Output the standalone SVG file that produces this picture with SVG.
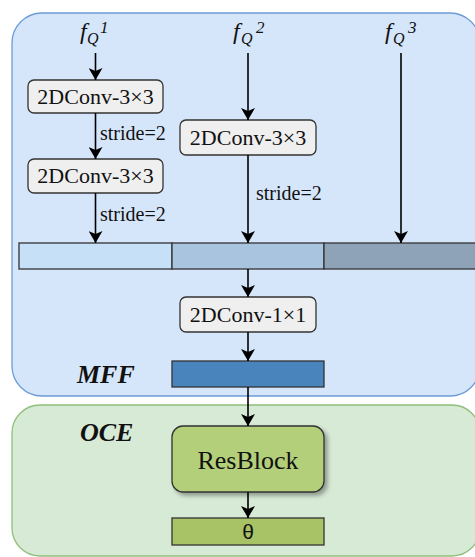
<svg xmlns="http://www.w3.org/2000/svg" width="475" height="557" viewBox="0 0 475 557">
<defs>
<marker id="ah" markerUnits="userSpaceOnUse" markerWidth="12" markerHeight="14" viewBox="0 0 12 14" refX="12" refY="7" orient="auto">
<path d="M0,0 L12,7 L0,14 L3,7 z" fill="#000"/>
</marker>
<filter id="sh" x="-10%" y="-10%" width="130%" height="140%">
<feDropShadow dx="3" dy="3" stdDeviation="2" flood-color="#000" flood-opacity="0.35"/>
</filter>
</defs>
<style>
text{font-family:"Liberation Serif","Times New Roman","DejaVu Serif",serif;fill:#111}
.box{fill:#efefef;stroke:#333;stroke-width:1.3}
.bt{font-size:22px;text-anchor:middle}
.st{font-size:20px}
.fi{font-style:italic}
.lbl{font-style:italic;font-weight:bold;font-size:26px}
.bar{stroke:#333;stroke-width:1.3}
.cn line{stroke:#000;stroke-width:1.6;marker-end:url(#ah)}
.sans{font-family:"Liberation Sans",Arial,sans-serif;font-size:21px;text-anchor:middle}
</style>
<g id="mff-panel">
<rect x="12" y="13" width="468" height="383" rx="30" fill="#d6e6fa" stroke="#6c9bd6" stroke-width="1.3"/>
<text class="lbl" x="77" y="383">MFF</text>
</g>
<g id="oce-panel">
<rect x="12" y="405" width="468" height="151" rx="28" fill="#d7ead6" stroke="#8fbf7c" stroke-width="1.3"/>
<text class="lbl" x="80" y="441">OCE</text>
</g>
<g id="fq1">
<text class="fi" x="80" y="39" font-size="24">f</text>
<text class="fi" x="87" y="44" font-size="16">Q</text>
<text class="fi" x="100" y="33" font-size="17">1</text>
</g>
<g id="fq2">
<text class="fi" x="233" y="39" font-size="24">f</text>
<text class="fi" x="241" y="44" font-size="16">Q</text>
<text class="fi" x="256" y="33" font-size="17">2</text>
</g>
<g id="fq3">
<text class="fi" x="385" y="39" font-size="24">f</text>
<text class="fi" x="393" y="44" font-size="16">Q</text>
<text class="fi" x="408" y="33" font-size="17">3</text>
</g>
<g id="conv1a">
<rect class="box" x="28" y="80" width="135" height="33" rx="6"/>
<text class="bt" x="95.5" y="104">2DConv-3×3</text>
</g>
<g id="conv1b">
<rect class="box" x="28" y="159" width="135" height="34" rx="6"/>
<text class="bt" x="95.5" y="183">2DConv-3×3</text>
</g>
<g id="conv2">
<rect class="box" x="180" y="120" width="136" height="35" rx="6"/>
<text class="bt" x="248" y="145">2DConv-3×3</text>
</g>
<g id="concat">
<rect class="bar" x="19" y="243" width="153" height="26" fill="#c6e0f8"/>
<rect class="bar" x="172" y="243" width="152" height="26" fill="#a9c4df"/>
<rect class="bar" x="324" y="243" width="156" height="26" fill="#8fa3b8"/>
</g>
<g id="conv1x1">
<rect class="box" x="180" y="297" width="136" height="35" rx="6"/>
<text class="bt" x="248" y="322">2DConv-1×1</text>
</g>
<g id="mff-out">
<rect class="bar" x="172" y="361" width="152" height="26" fill="#4a84bd"/>
</g>
<g id="resblock">
<rect x="172" y="426" width="152" height="66" rx="11" fill="#b3cf79" stroke="#333" stroke-width="1.3" filter="url(#sh)"/>
<text x="248" y="469" font-size="26" text-anchor="middle">ResBlock</text>
</g>
<g id="theta">
<rect class="bar" x="172" y="518" width="152" height="27" fill="#a8c266"/>
<text class="sans" x="248" y="539">θ</text>
</g>
<g id="connectors" class="cn">
<line x1="95.5" y1="53" x2="95.5" y2="80"/>
<line x1="95.5" y1="113" x2="95.5" y2="159"/>
<line x1="95.5" y1="193" x2="95.5" y2="243"/>
<line x1="248" y1="53" x2="248" y2="120"/>
<line x1="248" y1="155" x2="248" y2="243"/>
<line x1="401" y1="53" x2="401" y2="243"/>
<line x1="248" y1="269" x2="248" y2="297"/>
<line x1="248" y1="332" x2="248" y2="361"/>
<line x1="248" y1="387" x2="248" y2="426"/>
<line x1="248" y1="492" x2="248" y2="518"/>
</g>
<g id="edge-labels">
<text class="st" x="100" y="140">stride=2</text>
<text class="st" x="100" y="221">stride=2</text>
<text class="st" x="256" y="200">stride=2</text>
</g>
</svg>
